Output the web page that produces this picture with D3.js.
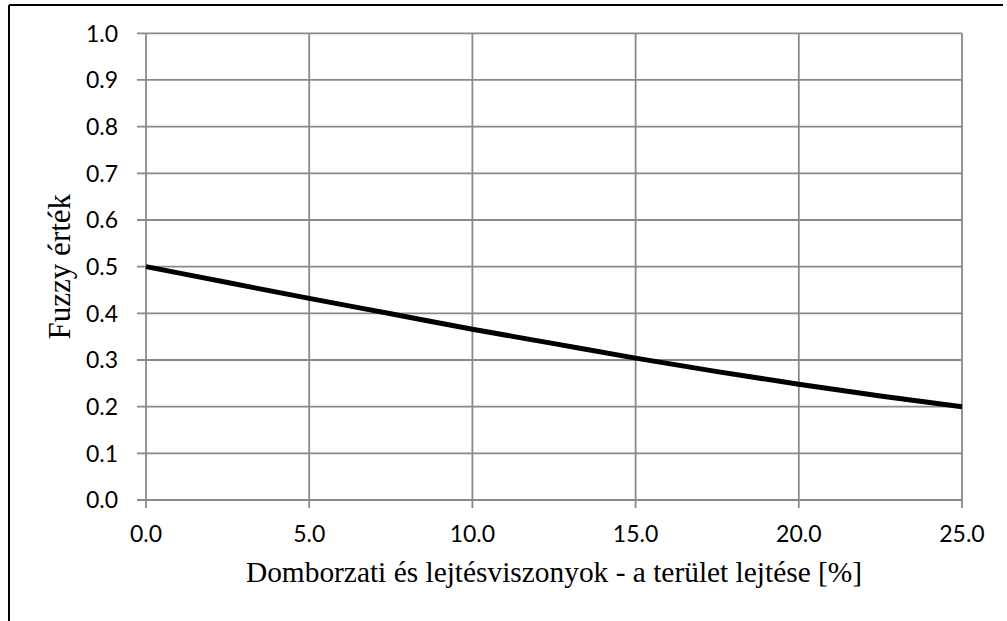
<!DOCTYPE html>
<html><head><meta charset="utf-8">
<script src="https://cdn.jsdelivr.net/npm/d3@7"></script>
<style>html,body{margin:0;padding:0;background:#fff;}svg{display:block;}</style>
</head><body>
<script>
const slopeX = [0, 2.5, 5, 7.5, 10, 12.5, 15, 17.5, 20, 22.5, 25];
const fuzzyY = [0.5, 0.466, 0.432, 0.399, 0.366, 0.335, 0.304, 0.275, 0.248, 0.223, 0.200];
const xTicks = [0, 5, 10, 15, 20, 25];
const yTicks = [0, 0.1, 0.2, 0.3, 0.4, 0.5, 0.6, 0.7, 0.8, 0.9, 1.0];
const xTitle = "Domborzati és lejtésviszonyok - a terület lejtése [%]";
const yTitle = "Fuzzy érték";

const W = 1007, H = 621;
const svg = d3.select("body").append("svg").attr("width", W).attr("height", H);

// outer frame (cropped: only top and left visible)
svg.append("line").attr("x1", 9).attr("x2", 1003).attr("y1", 5).attr("y2", 5)
  .attr("stroke", "#000").attr("stroke-width", 2);
svg.append("line").attr("x1", 9).attr("x2", 9).attr("y1", 5).attr("y2", H)
  .attr("stroke", "#000").attr("stroke-width", 2);

const x = d3.scaleLinear().domain([0, 25]).range([146, 962]);
const y = d3.scaleLinear().domain([0, 1]).range([500, 33.3]);
const grid = "#898989";

// grid
svg.append("g").selectAll("line.h").data(yTicks).join("line")
  .attr("x1", x(0) - 9).attr("x2", x(25))
  .attr("y1", d => y(d)).attr("y2", d => y(d))
  .attr("stroke", grid).attr("stroke-width", 1.8);
svg.append("g").selectAll("line.v").data(xTicks).join("line")
  .attr("x1", d => x(d)).attr("x2", d => x(d))
  .attr("y1", y(1)).attr("y2", y(0) + 8)
  .attr("stroke", grid).attr("stroke-width", 1.8);

// tick labels
const tickFont = "Lato, 'Open Sans', sans-serif";
svg.append("g").selectAll("text").data(yTicks).join("text")
  .attr("x", 118).attr("y", d => y(d))
  .attr("dy", "0.36em")
  .attr("text-anchor", "end")
  .attr("font-family", tickFont).attr("font-size", 23).attr("fill", "#000")
  .text(d => d3.format(".1f")(d));
svg.append("g").selectAll("text").data(xTicks).join("text")
  .attr("x", d => x(d)).attr("y", 542)
  .attr("text-anchor", "middle")
  .attr("font-family", tickFont).attr("font-size", 23).attr("fill", "#000")
  .text(d => d3.format(".1f")(d));

// axis titles
svg.append("text").attr("x", x(12.5)).attr("y", 582)
  .attr("text-anchor", "middle")
  .attr("font-family", "'Liberation Serif', 'Times New Roman', serif")
  .attr("font-size", 29.4).attr("fill", "#000").text(xTitle);
svg.append("text")
  .attr("transform", `translate(70,${(y(0) + y(1)) / 2}) rotate(-90)`)
  .attr("text-anchor", "middle")
  .attr("font-family", "'Liberation Serif', 'Times New Roman', serif")
  .attr("font-size", 31).attr("fill", "#000").text(yTitle);

// curve
const pts = slopeX.map((v, i) => [v, fuzzyY[i]]);
svg.append("path").datum(pts)
  .attr("d", d3.line().x(d => x(d[0])).y(d => y(d[1])).curve(d3.curveMonotoneX))
  .attr("fill", "none").attr("stroke", "#000").attr("stroke-width", 5);
</script>
</body></html>
